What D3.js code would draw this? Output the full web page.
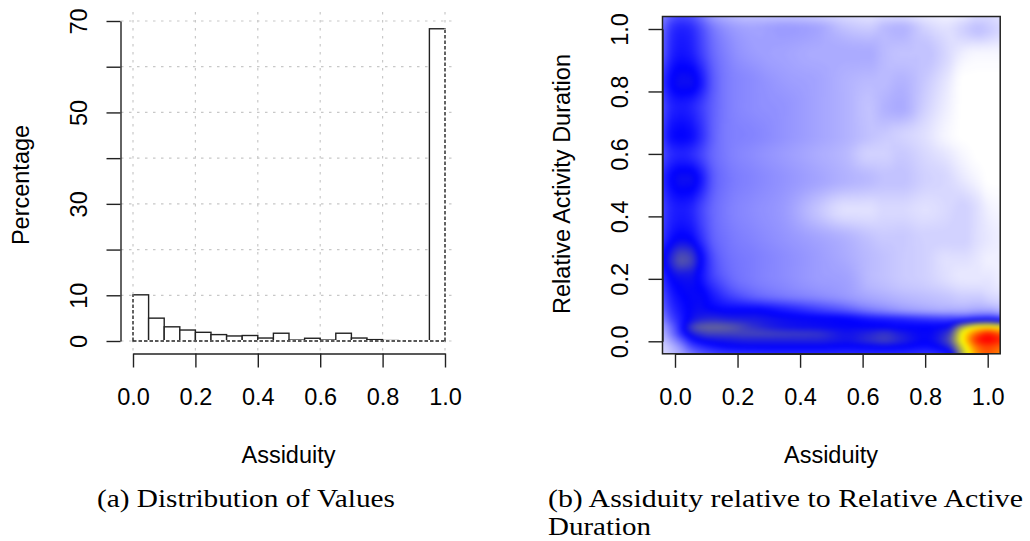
<!DOCTYPE html>
<html>
<head>
<meta charset="utf-8">
<script src="https://cdn.jsdelivr.net/npm/d3@7"></script>
<style>
  body { margin: 0; background: #fff; }
  svg text { font-family: "Liberation Sans", Arial, sans-serif; fill: #000; }
  .cap { font-family: "Liberation Serif", "Times New Roman", serif; font-size: 25px; }
</style>
</head>
<body>
<svg id="chart" width="1030" height="541"></svg>
<script>
// (a) histogram of assiduity, bins of 0.05, in percent
var binEdges = [0,0.05,0.1,0.15,0.2,0.25,0.3,0.35,0.4,0.45,0.5,0.55,0.6,0.65,0.7,0.75,0.8,0.85,0.9,0.95,1]
var binPct = [10.1,5.0,3.1,2.4,1.9,1.4,1.1,1.2,0.65,1.7,0.2,0.6,0.2,1.7,0.65,0.3,0.1,0,0,68.3]
var xTicks = [0,0.2,0.4,0.6,0.8,1]
var pctTicks = [0,10,20,30,40,50,60,70]
var pctLabels = [0,10,30,50,70]

// (b) smoothed density of assiduity vs relative activity duration
// values, 0..100 (white -> blue -> yellow -> red)
var rTicks = [0,0.2,0.4,0.6,0.8,1]
var densX = [-0.04,-0.01,0.02,0.05,0.08,0.12,0.17,0.25,0.35,0.45,0.55,0.62,0.67,0.72,0.8,0.87,0.92,0.97,1.0,1.04]
var densY = [1.04,1.0,0.92,0.83,0.75,0.66,0.6,0.52,0.42,0.33,0.26,0.21,0.15,0.1,0.07,0.045,0.025,0.005,-0.015,-0.04]
var density = [
  [16,22,24,23,19,13,10,8,8,7,5,4,5,5,3,2,3,5,5,4],
  [20,27,29,28,24,18,14,12,13,12,8,7,9,10,6,4,6,8,7,5],
  [22,29,31,30,26,20,16,13,12,11,11,11,9,8,8,5,2,1,1,1],
  [27,33,35,35,31,22,17,15,13,12,10,9,9,10,7,3,0,0,0,0],
  [24,29,30,29,26,21,17,15,14,12,10,8,10,11,6,2,0,0,0,0],
  [26,32,33,32,28,21,17,16,14,12,10,8,7,6,4,1,0,0,0,0],
  [24,28,29,28,25,20,17,15,13,11,9,6,6,7,5,3,1,0,0,0],
  [28,33,35,35,31,22,18,16,14,12,10,9,8,8,6,5,3,1,0,0],
  [25,29,30,29,25,20,17,15,13,8,4,4,5,5,4,5,6,4,2,1],
  [27,32,34,33,28,21,18,16,14,12,10,8,7,7,6,6,6,4,3,2],
  [32,39,44,42,34,24,19,17,15,13,11,9,8,7,6,4,4,3,2,2],
  [28,34,36,36,32,25,20,17,15,13,12,9,8,7,6,4,3,3,3,2],
  [24,30,33,34,34,30,25,20,17,15,13,11,10,9,8,7,6,6,5,4],
  [20,27,31,34,35,34,33,33,30,26,22,18,16,14,12,11,11,12,12,10],
  [16,24,30,35,38,39,38,37,35,34,33,31,30,29,27,26,28,32,33,30],
  [12,20,30,40,45,46,45,40,36,35,34,34,34,33,33,35,55,68,70,66],
  [10,18,28,36,40,42,42,42,41,40,36,38,40,37,34,40,66,88,95,88],
  [8,14,22,30,34,36,37,38,38,38,36,39,41,38,34,42,68,96,100,95],
  [6,10,16,24,28,31,33,34,34,34,33,34,35,34,32,38,62,88,92,88],
  [5,8,12,17,21,24,26,27,28,28,28,28,28,28,27,30,55,82,88,82]
]

var svg = d3.select("#chart")
var fmt = d3.format(".1f")

// ---------- (a) histogram ----------
var xL = d3.scaleLinear().domain([0,1]).range([133,445])
var yL = d3.scaleLinear().domain([0,70]).range([341,21])

var grid = svg.append("g").attr("stroke","#c8c8c8").attr("stroke-width",1.2).attr("stroke-dasharray","2.5,5.5")
grid.selectAll("line.v").data(xTicks).enter().append("line")
  .attr("x1",function(d){return xL(d)}).attr("x2",function(d){return xL(d)})
  .attr("y1",12).attr("y2",354)
grid.selectAll("line.h").data(pctTicks).enter().append("line")
  .attr("x1",121).attr("x2",457)
  .attr("y1",function(d){return yL(d)}).attr("y2",function(d){return yL(d)})

svg.append("g").selectAll("rect").data(binPct).enter().append("rect")
  .attr("x",function(d,i){return xL(binEdges[i])})
  .attr("y",function(d){return yL(d)})
  .attr("width",function(d,i){return xL(binEdges[i+1]) - xL(binEdges[i])})
  .attr("height",function(d){return yL(0) - yL(d)})
  .attr("fill","#fff").attr("stroke","#222").attr("stroke-width",1.4)

// outer bar edges and baseline are dashed in the original
var edges = [
  [binEdges[0], 0, binEdges[20], 0],
  [binEdges[0], 0, binEdges[0], binPct[0]],
  [binEdges[20], 0, binEdges[20], binPct[19]]
]
svg.append("g").selectAll("line").data(edges).enter().append("line")
  .attr("x1",function(d){return xL(d[0])}).attr("y1",function(d){return yL(d[1])})
  .attr("x2",function(d){return xL(d[2])}).attr("y2",function(d){return yL(d[3])})
  .attr("stroke","#fff").attr("stroke-width",2)
svg.append("g").selectAll("line").data(edges).enter().append("line")
  .attr("x1",function(d){return xL(d[0])}).attr("y1",function(d){return yL(d[1])})
  .attr("x2",function(d){return xL(d[2])}).attr("y2",function(d){return yL(d[3])})
  .attr("stroke","#222").attr("stroke-width",1.4).attr("stroke-dasharray","3.5,2")

var axYL = svg.append("g").attr("transform","translate(120.5,0)")
  .call(d3.axisLeft(yL).tickValues(pctTicks).tickSize(14).tickSizeOuter(0)
    .tickFormat(function(d){return pctLabels.indexOf(d) >= 0 ? d : ""}))
var axXL = svg.append("g").attr("transform","translate(0,353.5)")
  .call(d3.axisBottom(xL).tickValues(xTicks).tickSize(14).tickSizeOuter(0).tickPadding(21).tickFormat(fmt))

// ---------- (b) density image ----------
var xR = d3.scaleLinear().domain([0,1]).range([675,987.7])
var yR = d3.scaleLinear().domain([0,1]).range([341.3,29])
var bx0 = xR(-0.04), bx1 = xR(1.04), by0 = yR(1.04), by1 = yR(-0.04)

var colorRamp = d3.scaleLinear().domain([0,1/3,2/3,1]).range(["#ffffff","#0000ff","#ffff00","#ff0000"]).clamp(true)
var lut = d3.range(256).map(function(i){return d3.rgb(colorRamp(i/255))})

// monotone cubic through the knots (same slope rule as d3.curveMonotoneX)
function smooth(knots, vals, t){
  var n = knots.length
  if (t <= knots[0]) return vals[0]
  if (t >= knots[n-1]) return vals[n-1]
  var i = d3.bisectRight(knots, t) - 1
  function slope(k){
    if (k <= 0) return (vals[1]-vals[0])/(knots[1]-knots[0])
    if (k >= n-1) return (vals[n-1]-vals[n-2])/(knots[n-1]-knots[n-2])
    var h0 = knots[k]-knots[k-1], h1 = knots[k+1]-knots[k]
    var s0 = (vals[k]-vals[k-1])/h0, s1 = (vals[k+1]-vals[k])/h1
    var p = (s0*h1 + s1*h0)/(h0+h1)
    return (Math.sign(s0)+Math.sign(s1)) * Math.min(Math.abs(s0), Math.abs(s1), 0.5*Math.abs(p)) || 0
  }
  var h = knots[i+1]-knots[i], s = (t-knots[i])/h
  var s2 = s*s, s3 = s2*s
  return (2*s3-3*s2+1)*vals[i] + (s3-2*s2+s)*h*slope(i) + (-2*s3+3*s2)*vals[i+1] + (s3-s2)*h*slope(i+1)
}

var pad = 8
var cw = Math.round(bx1-bx0) + 2*pad, ch = Math.round(by1-by0) + 2*pad
var yAsc = densY.slice().reverse()
var rowsAsc = density.slice().reverse()
var colX = d3.range(cw).map(function(px){return xR.invert(bx0 - pad + px + 0.5)})
var rowVals = rowsAsc.map(function(row){
  return colX.map(function(x){return smooth(densX, row, x)})
})
var c1 = document.createElement("canvas")
c1.width = cw; c1.height = ch
var ctx1 = c1.getContext("2d")
var img = ctx1.createImageData(cw, ch)
for (var px = 0; px < cw; px++){
  var colVals = rowVals.map(function(r){return r[px]})
  for (var py = 0; py < ch; py++){
    var v = smooth(yAsc, colVals, yR.invert(by0 - pad + py + 0.5)) / 100
    var c = lut[Math.max(0, Math.min(255, Math.round(v*255)))]
    var o = (py*cw + px)*4
    img.data[o] = c.r; img.data[o+1] = c.g; img.data[o+2] = c.b; img.data[o+3] = 255
  }
}
ctx1.putImageData(img, 0, 0)
var c2 = document.createElement("canvas")
c2.width = cw; c2.height = ch
var ctx2 = c2.getContext("2d")
ctx2.filter = "blur(2px)"
ctx2.drawImage(c1, 0, 0)

svg.append("clipPath").attr("id","boxclip").append("rect")
  .attr("x",bx0).attr("y",by0).attr("width",bx1-bx0).attr("height",by1-by0)
svg.append("image").attr("clip-path","url(#boxclip)")
  .attr("x",bx0-pad).attr("y",by0-pad).attr("width",cw).attr("height",ch)
  .attr("preserveAspectRatio","none")
  .attr("href",c2.toDataURL())

svg.append("rect").attr("x",bx0).attr("y",by0).attr("width",bx1-bx0).attr("height",by1-by0)
  .attr("fill","none").attr("stroke","#222").attr("stroke-width",1.5)

var axYR = svg.append("g").attr("transform","translate(" + bx0 + ",0)")
  .call(d3.axisLeft(yR).tickValues(rTicks).tickSize(14).tickSizeOuter(0).tickFormat(fmt))
var axXR = svg.append("g").attr("transform","translate(0," + by1 + ")")
  .call(d3.axisBottom(xR).tickValues(rTicks).tickSize(14).tickSizeOuter(0).tickPadding(21).tickFormat(fmt))

// R-like axis styling
;[axYL, axXL, axYR, axXR].forEach(function(ax){
  ax.attr("font-size",null).attr("font-family",null)
  ax.selectAll("path, line").attr("stroke","#222").attr("stroke-width",1.4)
  ax.selectAll("text").style("font-size","23.5px")
})
;[axYL, axYR].forEach(function(ax){
  ax.selectAll("text").attr("x",0).attr("dy",null).attr("text-anchor","middle")
    .attr("transform","translate(-34,0) rotate(-90)")
})

// ---------- labels ----------
svg.append("text").text("Percentage").attr("text-anchor","middle").style("font-size","23.5px")
  .attr("transform","translate(28.5,185) rotate(-90)")
svg.append("text").text("Relative Activity Duration").attr("text-anchor","middle").style("font-size","23.5px")
  .attr("transform","translate(570,184) rotate(-90)")
svg.append("text").text("Assiduity").attr("x",288.5).attr("y",463).attr("text-anchor","middle").style("font-size","23.5px")
svg.append("text").text("Assiduity").attr("x",831).attr("y",463).attr("text-anchor","middle").style("font-size","23.5px")

svg.append("text").attr("class","cap").text("(a) Distribution of Values")
  .attr("x",97).attr("y",507).attr("textLength",298).attr("lengthAdjust","spacingAndGlyphs")
svg.append("text").attr("class","cap").text("(b) Assiduity relative to Relative Active")
  .attr("x",548).attr("y",507).attr("textLength",475).attr("lengthAdjust","spacingAndGlyphs")
svg.append("text").attr("class","cap").text("Duration")
  .attr("x",548).attr("y",535).attr("textLength",103).attr("lengthAdjust","spacingAndGlyphs")
</script>
</body>
</html>
